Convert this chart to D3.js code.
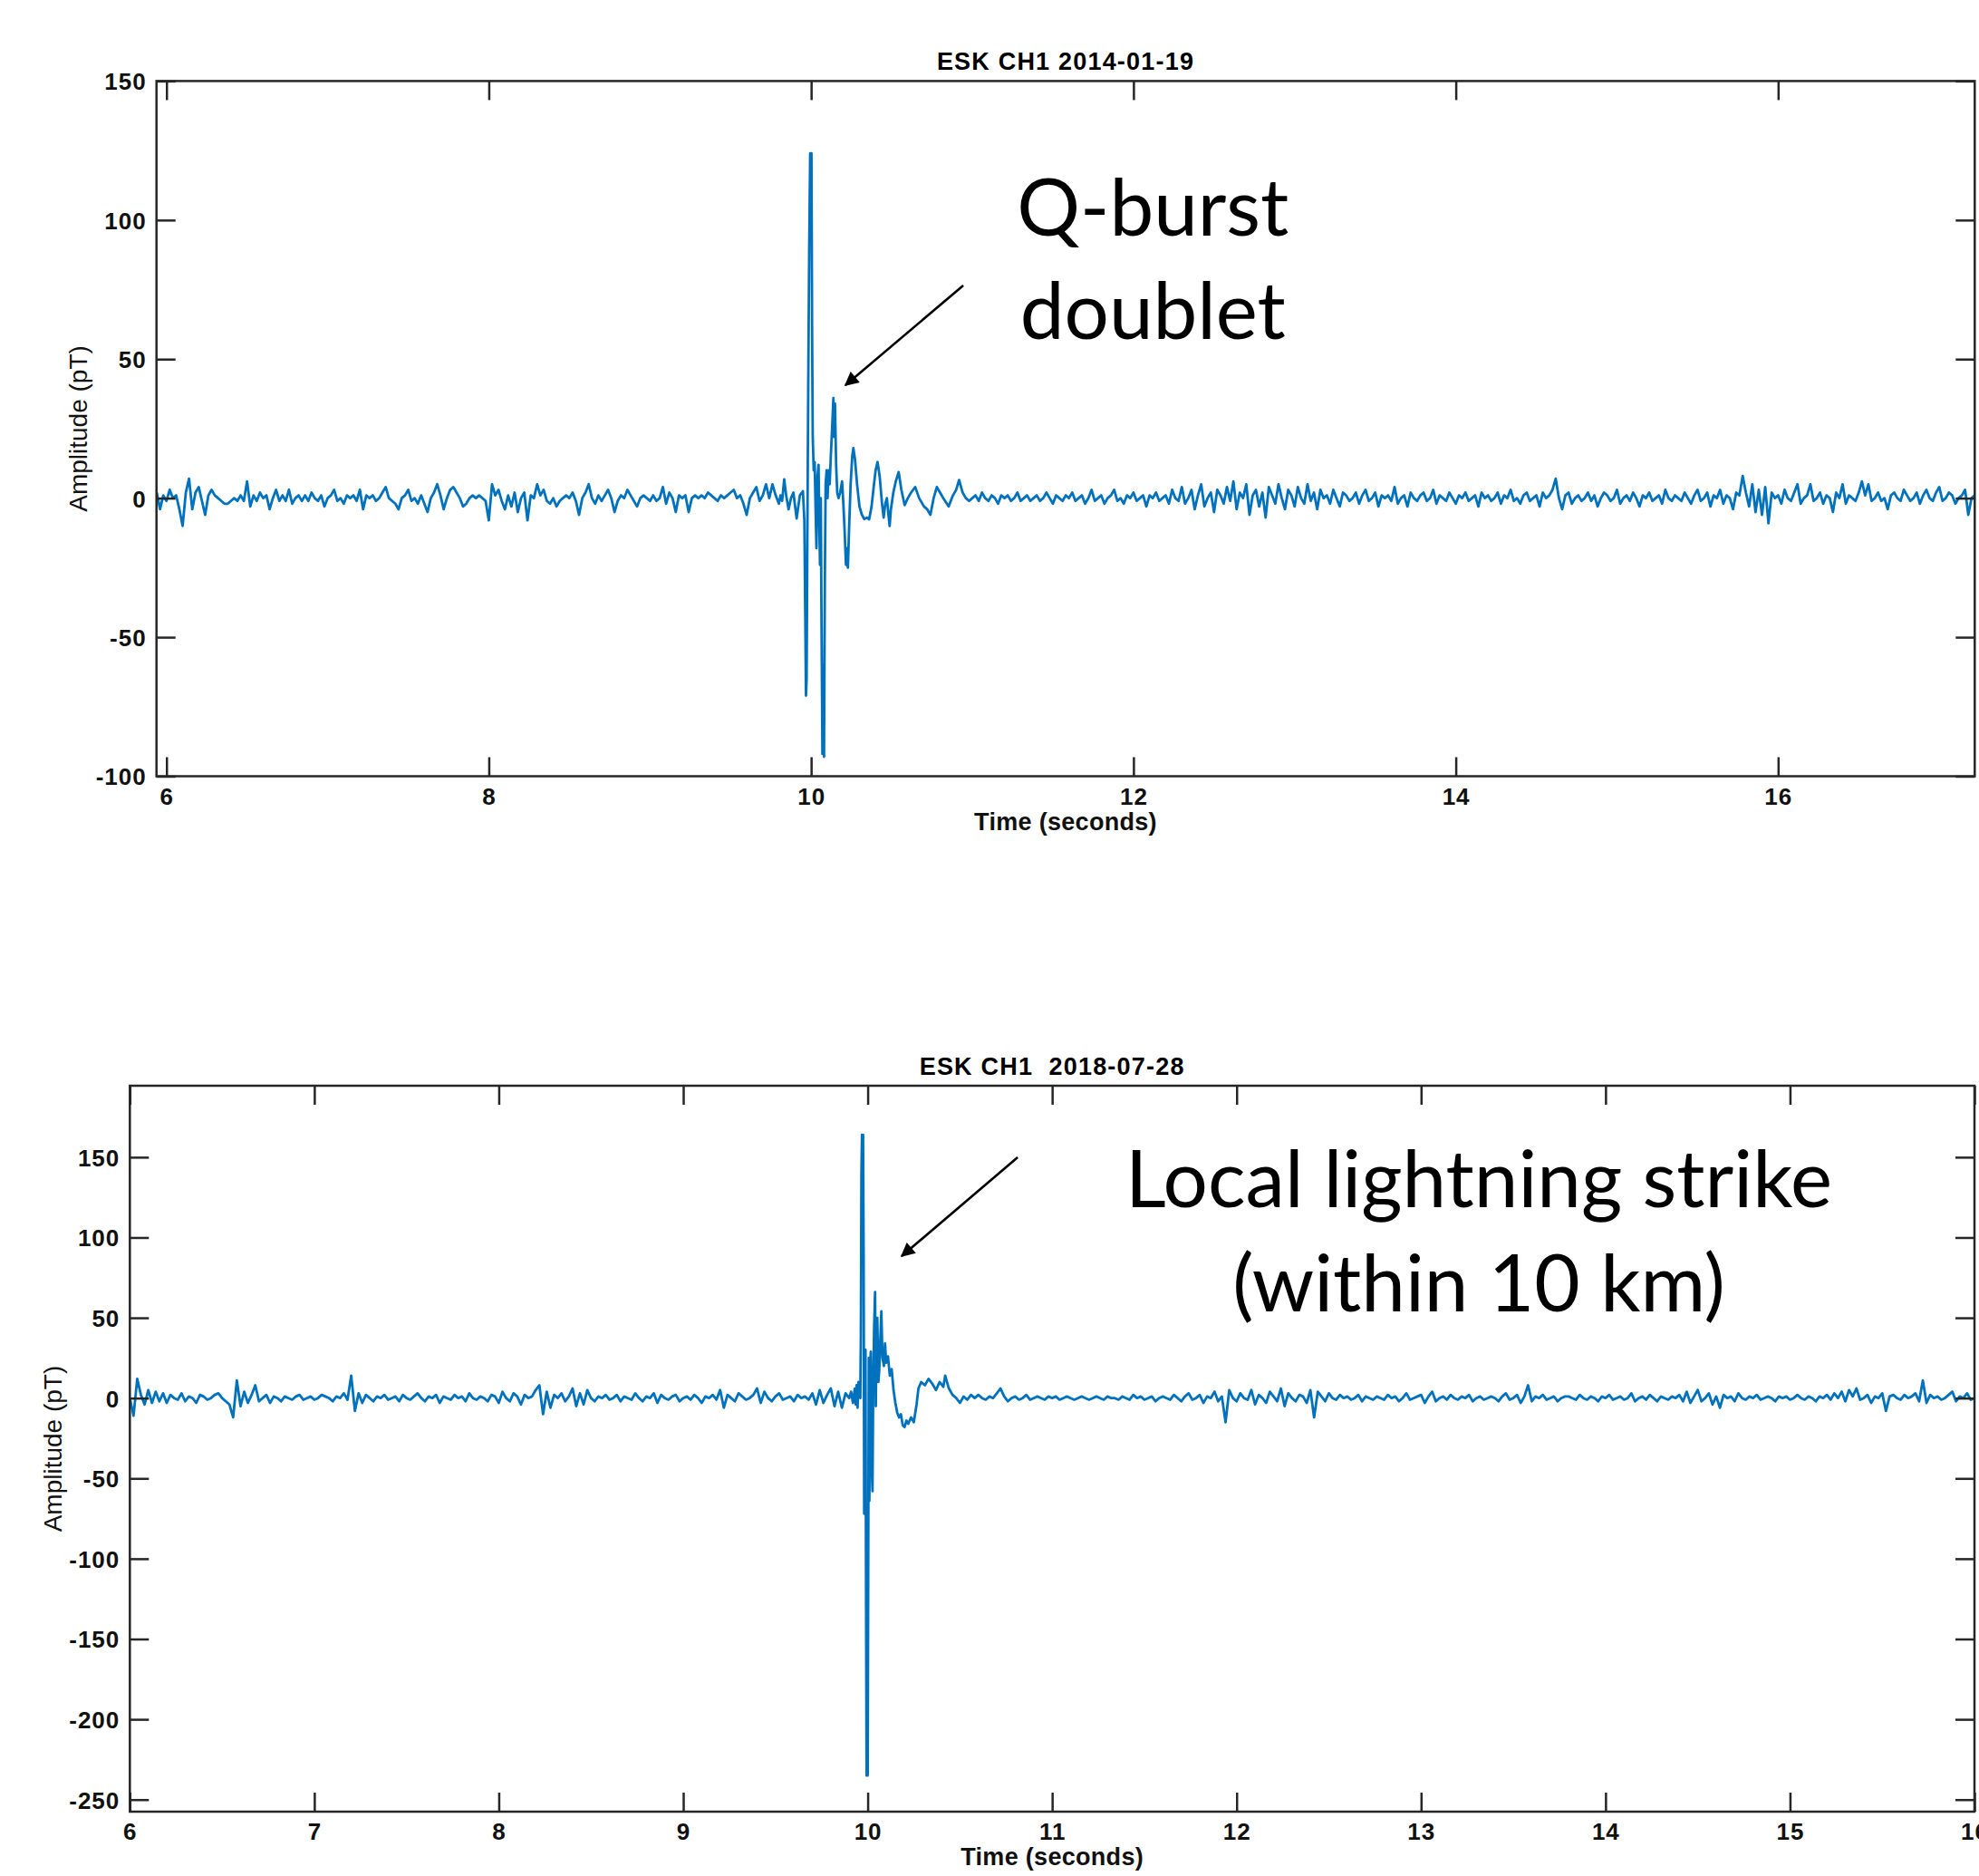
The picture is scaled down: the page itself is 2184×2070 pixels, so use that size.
<!DOCTYPE html>
<html><head><meta charset="utf-8">
<script src="https://cdn.jsdelivr.net/npm/d3@7"></script>
<style>html,body{margin:0;padding:0;background:#fff}svg{display:block}</style>
</head><body>
<svg id="chart" width="2184" height="2070"></svg>
<script>
// ---------------- DATA ----------------
// Panel 1: ESK CH1 2014-01-19 (Q-burst doublet)
const topTitle = "ESK CH1 2014-01-19";
const topXTicks = [6, 8, 10, 12, 14, 16];
const topXTickLabels = ["6", "8", "10", "12", "14", "16"];
const topYTicks = [-100, -50, 0, 50, 100, 150];
const topYTickLabels = ["-100", "-50", "0", "50", "100", "150"];
const topXDomain = [5.938, 17.22];
const topYDomain = [-100, 150];
// background noise before the burst: starts at 5.94 s, one value every 0.02 s
const topPreStart = 5.94, topPreStep = 0.02;
const topPre = [2,-4,1,-1,3,0,1,-4,-10,2, 7,-4,2,4,-1,-6,1,3,1,0, -1,-2,-2,-1,0,-1,1,-1,6,-3,
  1,-1,2,0,1,-4,0,3,-1,1, -1,3,-2,0,1,-1,1,-1,2,0, -1,1,-3,0,1,3,-1,0,-2,1,
  0,1,-1,3,-4,1,0,1,-1,0, 2,4,0,-1,-2,-4,0,1,3,-1, 0,-2,1,-2,-5,0,2,5,1,-4,
  0,3,4,2,0,-3,-2,0,1,0, 1,0,-1,-8,5,1,3,-1,-4,1, -3,2,-5,0,2,-8,1,0,5,1,
  3,-1,-2,0,-3,-1,0,1,0,2, -1,-6,0,2,5,0,-2,1,-1,1, 3,0,-5,-1,1,0,3,1,-1,-3,
  0,1,0,-1,1,-1,0,4,-2,2, 0,-5,1,0,1,-5,0,1,0,1, 0,2,1,0,-1,1,0,1,2,3,
  0,1,-2,-6,0,2,4,-1,1,5, 0,5,1];
// the burst itself, sampled densely (time in s, amplitude in pT)
const topBurstTime = [9.80,9.81,9.82,9.833,9.845,9.86,9.875,9.89,9.91,9.93,9.949,9.958,9.964,9.968,9.972,9.976,
  9.982,9.988,9.994,9.998,10.002,10.006,10.010,10.016,10.022,10.028,10.033,10.040,10.046,10.051,10.055,10.060,
  10.064,10.070,10.075,10.080,10.085,10.090,10.096,10.102,10.108,10.115,10.122,10.130,10.138,10.143,10.148,10.155,
  10.162,10.170,10.180,10.192,10.200,10.208,10.216,10.222,10.228,10.236,10.245,10.255,10.262,10.272,10.285,10.300,
  10.315,10.330,10.345,10.360,10.375,10.390,10.400,10.412,10.425,10.440,10.450,10.460,10.470,10.480,10.487,10.495,
  10.510,10.525,10.543,10.560,10.580,10.600,10.620,10.646,10.670,10.700,10.720,10.740,10.760,10.780,10.800,10.820,
  10.853,10.880,10.900,10.918,10.940,10.960,10.980];
const topBurstAmp = [-2,1,-1,6.8,1,-4,0,2,-7.3,1,2.5,-8,-45,-71,-65,-20,
  40,90,124,105,124,60,22,10,13,-5,-18,8,12,-10,-24,0,
  -40,-92,-60,-93,-30,5,10,0,10,5,15,25,36,22,34,12,
  2,0,2,6,-2,-12,-24,-18,-25,-10,5,15,18,14,5,-3,
  -6,-7.5,-7,-7.6,-3,5,10,13,8,-2,-7,-2,0,-6,-10,-4,
  2,6,9.4,3,-2.5,0,2,4,0,-3,-4,-6,0,4,2,0,
  -3,1,3,6.5,2,0,-1];
// background noise after the burst: starts at 11.00 s, one value every 0.02 s
const topPostStart = 11.00, topPostStep = 0.02;
const topPost = [0,1,-1,2,0,-1,1,0,-2,1, 0,1,-1,0,2,-1,0,1,-1,0, 1,-1,0,2,0,-2,1,0,-1,1,
  0,2,-1,0,1,-2,0,3,-1,0, 1,-2,0,1,3,-1,0,-2,1,0, 2,-1,0,1,-3,1,0,2,-1,0,
  1,-2,3,0,-1,4,-2,0,3,-4, 1,5,-3,0,2,-5,3,1,-2,4, -1,6,-4,2,0,5,-6,1,3,-3,
  2,-7,4,1,-2,5,0,-4,3,1, -3,4,0,-2,5,-1,2,-4,3,0, 1,-2,3,0,-3,2,1,-1,0,2,
  -2,1,3,-1,0,2,-3,1,0,1, -1,4,-2,0,1,-3,2,0,-1,1, 2,-1,0,3,-2,1,0,-1,2,0,
  -2,1,0,2,-1,0,1,-3,2,0, 1,-1,0,2,-2,1,0,3,-1,0, -2,1,2,-1,0,1,-3,2,0,1,
  3,7,0,-4,1,2,-2,0,1,-1, 0,2,-1,1,-3,0,2,1,-1,0, 3,-2,0,1,-1,2,0,-3,1,0,
  2,-1,0,1,-2,3,0,-1,1,0, -1,2,0,-2,1,3,-1,0,2,-3, 1,0,3,-2,1,0,-4,2,1,8,
  2,-3,5,-5,3,-6,4,-9,2,0, 1,-2,3,0,-1,2,5,-2,0,1, 5,-1,0,2,-2,1,0,-5,2,0,
  5,-2,1,0,-1,2,6,1,5,-1, 0,2,-1,0,-4,1,2,0,-1,3, 1,-1,0,2,-2,1,3,0,-1,2,
  4,-1,0,2,1,-2,0,1,3,-6, 0,1];

// Panel 2: ESK CH1 2018-07-28 (local lightning strike)
const botTitle = "ESK CH1  2018-07-28";
const botXTicks = [6, 7, 8, 9, 10, 11, 12, 13, 14, 15, 16];
const botXTickLabels = ["6", "7", "8", "9", "10", "11", "12", "13", "14", "15", "16"];
const botYTicks = [-250, -200, -150, -100, -50, 0, 50, 100, 150];
const botYTickLabels = ["-250", "-200", "-150", "-100", "-50", "0", "50", "100", "150"];
const botXDomain = [6, 16];
const botYDomain = [-257.5, 194.5];
const botPreStart = 6.00, botPreStep = 0.02;
const botPre = [0,-11,12,2,-4,5,-3,4,-2,3, -3,2,0,-1,3,-2,1,0,-3,2, 1,-1,0,2,3,0,-2,-4,-12,11,
  -5,4,-3,2,8,-2,0,2,-3,1, 0,-2,1,0,-1,1,2,-1,0,1, -1,0,2,1,0,-2,1,0,3,-1,
  14,-8,3,-3,2,0,-2,1,0,2, -1,0,1,-2,2,0,-1,1,3,0, -2,1,0,2,-3,1,0,-1,2,0,
  1,-2,3,0,-1,1,0,-2,2,1, -3,4,0,-2,3,1,-4,2,0,1, 5,8,-10,4,-6,2,0,3,-2,1,
  6,-5,3,-4,5,0,-2,1,0,2, -1,0,2,-2,1,0,-1,3,0,-2, 1,0,3,-3,2,0,-1,1,2,-2,
  0,1,-1,2,0,-3,1,0,2,-1, 5,-6,2,0,-2,3,1,-1,0,2, 6,-3,4,0,-2,1,3,-1,0,1,
  -2,2,0,1,-1,3,-4,5,-3,2, 6,-5,4,-6,3];
const botBurstTime = [9.90,9.91,9.92,9.93,9.935,9.94,9.945,9.95,9.955,9.96,9.963,9.966,9.969,9.972,9.975,9.978,
  9.981,9.985,9.988,9.991,9.994,9.997,10.000,10.003,10.006,10.009,10.013,10.017,10.021,10.026,10.030,10.035,
  10.040,10.044,10.048,10.052,10.058,10.063,10.068,10.074,10.080,10.088,10.094,10.100,10.110,10.120,10.130,10.140,
  10.150,10.160,10.170,10.180,10.190,10.200,10.210,10.220,10.235,10.250,10.265,10.275,10.29,10.31,10.33,10.35,
  10.37,10.39,10.41,10.42,10.44,10.46,10.48,10.50,10.52,10.54,10.56,10.58];
const botBurstAmp = [0,4,-3,6,-4,8,-6,10,2,0,40,140,164,120,164,90,
  -72,-40,30,-120,-235,-190,-235,-100,25,-64,20,29,-40,-58,10,45,
  66,-5,40,50,10,18,35,54,25,20,34,22,26,14,18,5,
  -3,-9,-12,-10,-17,-18,-14,-16,-12,-15,-4,6,10,8,12,9,
  5,10,7,14,6,2,0,-3,1,-1,2,0];
const botPostStart = 10.60, botPostStep = 0.02;
const botPost = [2,0,-1,1,0,3,6,1,-2,0, 1,-1,0,2,-1,0,1,0,-1,1, 0,1,-1,0,1,0,-1,0,1,0,
  -1,0,1,0,-1,1,0,0,-1,1, 0,-1,2,0,1,-1,0,1,-2,0, 1,0,-1,2,0,-2,1,3,-1,0,
  2,-3,1,0,4,-2,1,-15,5,0, -2,3,0,-1,5,-4,2,0,-3,4, 1,-2,6,-5,3,0,-2,2,1,-3,
  5,-12,4,1,-2,3,0,-1,2,0, 1,-1,0,2,-2,1,0,-1,1,0, -1,2,0,1,-2,0,3,-1,0,1,
  2,-3,1,4,-2,0,1,-1,2,0, -1,1,0,2,-2,0,1,-1,0,1, 0,-2,1,3,-1,0,2,-3,1,8,
  -2,1,0,2,-1,0,1,-2,0,1, 1,0,-1,2,0,-1,1,0,-2,1, 0,2,-1,0,1,-1,0,3,-2,0,
  1,-1,2,0,-2,1,0,-1,1,0, 2,-2,4,-3,1,5,-2,0,3,-4, 1,-6,2,0,1,-2,3,0,-1,1,
  0,2,-1,0,1,0,-2,1,0,1, -1,0,2,0,-1,1,0,-2,1,0, 2,-1,3,0,4,-2,5,1,6,-1,
  0,2,-3,1,0,3,-8,1,2,0, -1,2,0,1,3,-2,11,-3,2,0, 1,-1,0,2,4,-2,1,0,3,-1,
  0];

// annotations (anchored in data coordinates)
const topNote = ["Q-burst", "doublet"];
const topNoteAt = {t: 12.12, v: [94.4, 57.2]};
const topArrow = {from: [10.944, 76.5], to: [10.213, 40.6]};
const botNote = ["Local lightning strike", "(within 10 km)"];
const botNoteAt = {t: 13.313, v: [118.9, 54.0]};
const botArrow = {from: [10.813, 149.9], to: [10.184, 88.4]};

// ---------------- DRAWING ----------------
const svg = d3.select("#chart");
const FONT = '"Liberation Sans", Arial, Helvetica, sans-serif';
const AX = "#262626";
const BLUE = "#0072BD";

svg.append("defs").append("marker")
  .attr("id", "arrowhead").attr("viewBox", "0 0 10 10")
  .attr("refX", 9).attr("refY", 5)
  .attr("markerWidth", 8).attr("markerHeight", 6)
  .attr("markerUnits", "strokeWidth")
  .attr("orient", "auto")
  .append("path").attr("d", "M0,0L10,5L0,10z").attr("fill", "#000");

function build(pre, preStart, preStep, bt, ba, post, postStart, postStep) {
  const s = [];
  pre.forEach((v, i) => s.push([preStart + i * preStep, v]));
  bt.forEach((t, i) => s.push([t, ba[i]]));
  post.forEach((v, i) => s.push([postStart + i * postStep, v]));
  return s;
}

function panel(o) {
  const g = svg.append("g");
  const x = d3.scaleLinear().domain(o.xDomain).range([o.left, o.right]);
  const y = d3.scaleLinear().domain(o.yDomain).range([o.bottom, o.top]);
  const cid = "clip" + o.id;
  svg.select("defs").append("clipPath").attr("id", cid)
    .append("rect").attr("x", o.left).attr("y", o.top)
    .attr("width", o.right - o.left).attr("height", o.bottom - o.top);

  g.append("path").datum(o.series)
    .attr("clip-path", `url(#${cid})`)
    .attr("fill", "none").attr("stroke", BLUE).attr("stroke-width", 2.8)
    .attr("stroke-linejoin", "round")
    .attr("d", d3.line().x(d => x(d[0])).y(d => y(d[1])));

  const tick = 21;
  const styleAxis = sel => {
    sel.select(".domain").remove();
    sel.selectAll(".tick line").attr("stroke", AX).attr("stroke-width", 2.5);
    sel.selectAll("text").attr("font-family", FONT).attr("font-weight", "bold")
      .attr("font-size", 26).attr("letter-spacing", 1).attr("fill", "#111");
  };
  const gb = g.append("g").attr("transform", `translate(0,${o.bottom})`)
    .call(d3.axisBottom(x).tickValues(o.xTicks).tickFormat((d, i) => o.xLabels[i])
      .tickSizeInner(-tick).tickSizeOuter(0));
  styleAxis(gb);
  gb.selectAll("text").attr("y", 31).attr("dy", 0);

  const gt = g.append("g").attr("transform", `translate(0,${o.top})`)
    .call(d3.axisTop(x).tickValues(o.xTicks).tickFormat("").tickSizeInner(-tick).tickSizeOuter(0));
  styleAxis(gt);

  const gl = g.append("g").attr("transform", `translate(${o.left},0)`)
    .call(d3.axisLeft(y).tickValues(o.yTicks).tickFormat((d, i) => o.yLabels[i])
      .tickSizeInner(-tick).tickSizeOuter(0));
  styleAxis(gl);
  gl.selectAll("text").attr("x", -11).attr("dy", "0.36em");

  const gr = g.append("g").attr("transform", `translate(${o.right},0)`)
    .call(d3.axisRight(y).tickValues(o.yTicks).tickFormat("").tickSizeInner(-tick).tickSizeOuter(0));
  styleAxis(gr);

  g.append("rect").attr("x", o.left).attr("y", o.top)
    .attr("width", o.right - o.left).attr("height", o.bottom - o.top)
    .attr("fill", "none").attr("stroke", AX).attr("stroke-width", 2.5);

  // title
  g.append("text").attr("x", (o.left + o.right) / 2).attr("y", o.top - 12)
    .attr("text-anchor", "middle").attr("font-family", FONT).attr("font-weight", "bold")
    .attr("font-size", 27).attr("letter-spacing", 1.2).attr("fill", "#000")
    .style("white-space", "pre").text(o.title);
  // x label
  g.append("text").attr("x", (o.left + o.right) / 2).attr("y", o.bottom + 59)
    .attr("text-anchor", "middle").attr("font-family", FONT).attr("font-weight", "bold")
    .attr("font-size", 27).attr("letter-spacing", 0.3).attr("fill", "#111")
    .text("Time (seconds)");
  // y label
  g.append("text")
    .attr("transform", `translate(${o.yLabX},${(o.top + o.bottom) / 2}) rotate(-90)`)
    .attr("text-anchor", "middle").attr("font-family", FONT)
    .attr("font-size", 28).attr("fill", "#111")
    .text("Amplitude (pT)");

  // annotation text
  const nt = g.append("g");
  o.note.forEach((line, i) => {
    nt.append("text").attr("x", x(o.noteAt.t)).attr("y", y(o.noteAt.v[i]))
      .attr("text-anchor", "middle").attr("font-family", "Lato, 'Open Sans', sans-serif")
      .attr("font-size", o.noteSize).attr("fill", "#000").text(line);
  });
  // arrow
  g.append("line")
    .attr("x1", x(o.arrow.from[0])).attr("y1", y(o.arrow.from[1]))
    .attr("x2", x(o.arrow.to[0])).attr("y2", y(o.arrow.to[1]))
    .attr("stroke", "#000").attr("stroke-width", 2.6)
    .attr("marker-end", "url(#arrowhead)");
  return nt;
}

// fit annotation font size to measured width of the long line
const probe = svg.append("text").attr("font-family", "Lato, 'Open Sans', sans-serif")
  .attr("font-size", 100).text(botNote[0]);
const probeW = probe.node().getComputedTextLength();
probe.remove();
const noteSize = 100 * 780 / probeW;

panel({
  id: 1, left: 172.7, right: 2179.3, top: 89.4, bottom: 856.5,
  xDomain: topXDomain, yDomain: topYDomain,
  xTicks: topXTicks, xLabels: topXTickLabels, yTicks: topYTicks, yLabels: topYTickLabels,
  series: build(topPre, topPreStart, topPreStep, topBurstTime, topBurstAmp, topPost, topPostStart, topPostStep),
  title: topTitle, yLabX: 96,
  note: topNote, noteAt: topNoteAt, arrow: topArrow, noteSize: noteSize
});
panel({
  id: 2, left: 143.3, right: 2179, top: 1198, bottom: 1999,
  xDomain: botXDomain, yDomain: botYDomain,
  xTicks: botXTicks, xLabels: botXTickLabels, yTicks: botYTicks, yLabels: botYTickLabels,
  series: build(botPre, botPreStart, botPreStep, botBurstTime, botBurstAmp, botPost, botPostStart, botPostStep),
  title: botTitle, yLabX: 68,
  note: botNote, noteAt: botNoteAt, arrow: botArrow, noteSize: noteSize
});
</script>
</body></html>
